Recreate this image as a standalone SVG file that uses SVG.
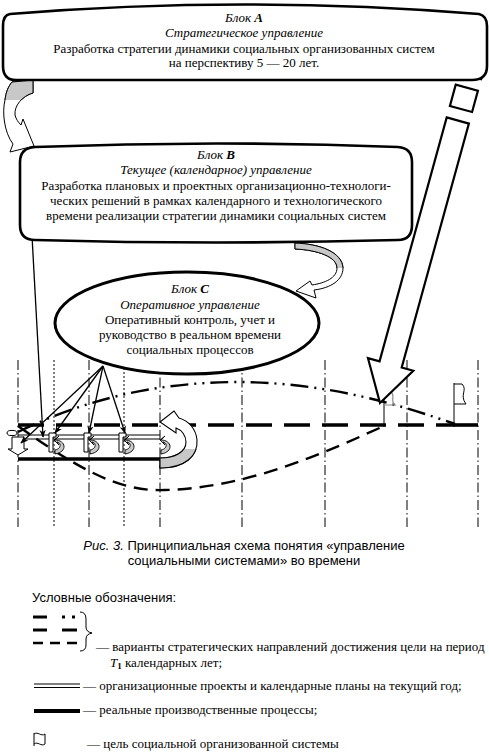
<svg xmlns="http://www.w3.org/2000/svg" width="489" height="753" viewBox="0 0 489 753">
<style>
.t{font-family:"Liberation Serif","Times New Roman",serif;font-size:13px;fill:#000}
.i{font-style:italic}
.b{font-weight:bold}
.s{font-family:"Liberation Sans",Arial,sans-serif;font-size:13px;fill:#000}
.blk{fill:#fff;stroke:#000;stroke-width:2.6}
.vl{stroke:#000;stroke-width:1;fill:none;stroke-dasharray:10 3 1.5 3}
.vd{stroke:#000;stroke-width:1;fill:none;stroke-dasharray:2 2}
.ar{stroke:#000;stroke-width:1.3;fill:none;marker-end:url(#ah)}
.ol{stroke:#000;stroke-width:1;fill:#fff}
.gr{fill:#c8c8c8}
</style>
<defs>
<marker id="ah" viewBox="0 0 10 8" refX="9" refY="4" markerWidth="8" markerHeight="7" orient="auto" markerUnits="userSpaceOnUse">
<path d="M0,0 L10,4 L0,8 L3,4 z" fill="#000"/>
</marker>
<clipPath id="low"><rect x="0" y="449" width="300" height="40"/></clipPath>
<clipPath id="topA"><rect x="0" y="0" width="489" height="100"/></clipPath>
<clipPath id="topB"><rect x="280" y="230" width="100" height="38"/></clipPath>
</defs>

<!-- time grid -->
<g id="grid">
<line class="vl" x1="18" y1="360" x2="18" y2="527"/>
<line class="vd" x1="54" y1="360" x2="54" y2="527"/>
<line class="vl" x1="89" y1="360" x2="89" y2="527"/>
<line class="vd" x1="124" y1="360" x2="124" y2="527"/>
<line class="vl" x1="160" y1="360" x2="160" y2="527"/>
<line class="vl" x1="242" y1="360" x2="242" y2="527"/>
<line class="vl" x1="325" y1="360" x2="325" y2="527"/>
<line class="vl" x1="407" y1="360" x2="407" y2="527"/>
<line class="vl" x1="478" y1="360" x2="478" y2="527"/>
</g>

<!-- strategic variants -->
<g id="variants" fill="none" stroke="#000">
<path d="M18,432 C80,402 150,382 240,382 C330,383 400,405 455,424" stroke-width="2.4" stroke-dasharray="18 6 2 6 2 6"/>
<path d="M18,426 C80,470 120,492 165,490 C250,488 330,450 384,426" stroke-width="2.4" stroke-dasharray="14 8"/>
<line x1="18" y1="425" x2="455" y2="425" stroke-width="3.6" stroke-dasharray="26 12"/>
<line x1="454" y1="425" x2="478" y2="425" stroke-width="3.6"/>
</g>

<!-- goals -->
<g id="goal2" fill="none">
<line x1="384" y1="392" x2="384" y2="427" stroke="#000" stroke-width="1"/>
<path d="M384,391 L390,391 C397,396 389,400 395,405 L384,405" stroke="#888" stroke-width="1.2"/>
</g>
<g id="goal1" fill="none" stroke="#000" stroke-width="1">
<line x1="454" y1="383" x2="454" y2="427"/>
<path d="M454,384 L462,384 C468,390 459,395 466,404 L454,404"/>
</g>

<!-- current plans and real processes -->
<g id="processes">
<line x1="18" y1="435" x2="160" y2="435" stroke="#000" stroke-width="1.1"/>
<line x1="18" y1="439" x2="160" y2="439" stroke="#000" stroke-width="1.1"/>
<line x1="18" y1="459" x2="160" y2="459" stroke="#000" stroke-width="3.6"/>
<!-- icon at 18 -->
<ellipse cx="12" cy="433" rx="5" ry="2.6" fill="none" stroke="#000" stroke-width="1"/>
<path class="ol" d="M12,437 L24,437 L24,449 L28,449 L18,455 L8,449 L12,449 Z"/>
<!-- icons at 54, 89, 124, 160 -->
<g id="ic1">
<path class="ol" d="M49,433 L56,433 L56,437 L53,437 L53,452 L49,452 Z"/>
<path class="gr" stroke="#000" stroke-width="0.9" d="M55,440 C66,440 68,452 55,454 L55,450 C61,449 62,443 57,442 L59,445 L54,440 L59,436 Z"/>
</g>
<use href="#ic1" x="35"/>
<use href="#ic1" x="70"/>
<path class="gr" stroke="#000" stroke-width="0.9" d="M161,440 C172,440 174,452 161,454 L161,450 C167,449 168,443 163,442 L165,445 L160,440 L165,436 Z"/>
<!-- big U arrow -->
<g id="uarrow">
<path id="uband" fill="#fff" stroke="#000" stroke-width="1.1" d="M160,468 C185,468 198,456 197,440 C196,429 189,421 179,418 L174,411 L160,422 L176,433 L176,428 C182,430 186,436 186,442 C186,452 175,458 160,458 Z"/>
<path clip-path="url(#low)" class="gr" stroke="#000" stroke-width="1.1" d="M160,468 C185,468 198,456 197,440 C196,429 189,421 179,418 L174,411 L160,422 L176,433 L176,428 C182,430 186,436 186,442 C186,452 175,458 160,458 Z"/>
</g>
</g>

<!-- connectors -->
<g id="connectors">
<line class="ar" x1="32" y1="236" x2="43" y2="437"/>
<line class="ar" x1="103" y1="366" x2="21" y2="443"/>
<line class="ar" x1="103" y1="366" x2="55" y2="433"/>
<line class="ar" x1="103" y1="366" x2="89" y2="433"/>
<line class="ar" x1="103" y1="366" x2="125" y2="433"/>
<!-- A to B curved arrow -->
<path fill="#fff" stroke="#000" stroke-width="1" d="M12,82 L33,80 L33,93 C22,96 14,106 15,115 C16,119 18,122 21,125 L23,119 L34,146 L10,152 L13,144 C4,132 2,112 5,100 C6,92 8,87 12,82 Z"/>
<path clip-path="url(#topA)" class="gr" stroke="#000" stroke-width="1" d="M12,82 L33,80 L33,93 C22,96 14,106 15,115 C16,119 18,122 21,125 L23,119 L34,146 L10,152 L13,144 C4,132 2,112 5,100 C6,92 8,87 12,82 Z"/>
<!-- B to C curved arrow -->
<path fill="#fff" stroke="#000" stroke-width="1" d="M295,243 C320,244 342,252 343,268 C343,280 331,288 314,290 L316,298 L296,291 L310,281 L312,285 C325,283 337,278 337,268 C337,257 318,250 295,249 Z"/>
<path clip-path="url(#topB)" class="gr" stroke="#000" stroke-width="1" d="M295,243 C320,244 342,252 343,268 C343,280 331,288 314,290 L316,298 L296,291 L310,281 L312,285 C325,283 337,278 337,268 C337,257 318,250 295,249 Z"/>
<!-- A to goal block arrow -->
<g transform="translate(380,403) rotate(15.4)" fill="#fff" stroke="#000" stroke-width="2.2" stroke-linejoin="miter">
<path d="M0,0 L-23.5,-40 L-11.5,-40 L-11.5,-293 L11.5,-293 L11.5,-40 L23.5,-40 Z"/>
<rect x="-11.5" y="-327" width="23" height="22"/>
<rect x="-11.5" y="-358" width="23" height="19"/>
</g>
</g>

<!-- Block C -->
<g id="blockC">
<ellipse cx="187" cy="323" rx="132" ry="51" fill="#fff" stroke="#000" stroke-width="3"/>
<text class="t i" x="190" y="293" text-anchor="middle">Блок <tspan class="b">C</tspan></text>
<text class="t i" x="190" y="309" text-anchor="middle">Оперативное управление</text>
<text class="t" x="190" y="324" text-anchor="middle">Оперативный контроль, учет и</text>
<text class="t" x="190" y="339" text-anchor="middle">руководство в реальном времени</text>
<text class="t" x="190" y="354" text-anchor="middle">социальных процессов</text>
</g>

<!-- Block B -->
<g id="blockB">
<path class="blk" d="M35,147 Q217,140 398,147 Q412,148 412,162 L412,225 Q412,240 398,240 Q217,245 35,240 Q20,240 20,225 L20,162 Q20,148 35,147 Z"/>
<text class="t i" x="216" y="159" text-anchor="middle">Блок <tspan class="b">B</tspan></text>
<text class="t i" x="216" y="174" text-anchor="middle">Текущее (календарное) управление</text>
<text class="t" x="216" y="190" text-anchor="middle">Разработка плановых и проектных организационно-технологи-</text>
<text class="t" x="216" y="205" text-anchor="middle">ческих решений в рамках календарного и технологического</text>
<text class="t" x="216" y="220" text-anchor="middle">времени реализации стратегии динамики социальных систем</text>
</g>

<!-- Block A -->
<g id="blockA">
<path class="blk" d="M10,14 Q244,-5 479,14 Q487,16 487,26 L487,66 Q487,80 472,80 L16,80 Q3,80 3,66 L3,26 Q3,15 10,14 Z"/>
<text class="t i" x="244" y="22" text-anchor="middle">Блок <tspan class="b">A</tspan></text>
<text class="t i" x="244" y="37" text-anchor="middle">Стратегическое управление</text>
<text class="t" x="244" y="53" text-anchor="middle">Разработка стратегии динамики социальных организованных систем</text>
<text class="t" x="244" y="67" text-anchor="middle">на перспективу 5 — 20 лет.</text>
</g>

<!-- caption -->
<g id="caption">
<text class="s" x="244" y="550" text-anchor="middle"><tspan class="i">Рис. 3.</tspan> Принципиальная схема понятия «управление</text>
<text class="s" x="244" y="565" text-anchor="middle">социальными системами» во времени</text>
</g>

<!-- legend -->
<g id="legend">
<text class="s" x="32" y="602">Условные обозначения:</text>
<g stroke="#000" fill="none">
<line x1="33" y1="617" x2="47" y2="617" stroke-width="3"/>
<line x1="62" y1="617" x2="77" y2="617" stroke-width="3" stroke-dasharray="3 7"/>
<line x1="33" y1="630" x2="47" y2="630" stroke-width="3"/>
<line x1="62" y1="630" x2="77" y2="630" stroke-width="3"/>
<line x1="33" y1="643" x2="77" y2="643" stroke-width="2.6" stroke-dasharray="10 7"/>
<path d="M80,612 Q86,612 86,619 L86,627 Q86,632 92,633 Q86,634 86,639 L86,645 Q86,651 80,651" stroke-width="1"/>
<line x1="34" y1="684" x2="80" y2="684" stroke-width="1.1"/>
<line x1="34" y1="687.5" x2="80" y2="687.5" stroke-width="1.1"/>
<line x1="34" y1="711" x2="80" y2="711" stroke-width="4"/>
<path d="M34,733 L34,746 M34,734 C38,731 41,737 45,734 L45,744 C41,747 38,741 34,744" stroke-width="1"/>
</g>
<text class="t" x="96" y="651">— варианты стратегических направлений достижения цели на период</text>
<text class="t" x="110" y="667"><tspan class="i">T</tspan><tspan class="b" font-size="9" dy="2">1</tspan><tspan dy="-2"> календарных лет;</tspan></text>
<text class="t" x="83" y="690">— организационные проекты и календарные планы на текущий год;</text>
<text class="t" x="83" y="714">— реальные производственные процессы;</text>
<text class="t" x="87" y="748">— цель социальной организованной системы</text>
</g>
</svg>
